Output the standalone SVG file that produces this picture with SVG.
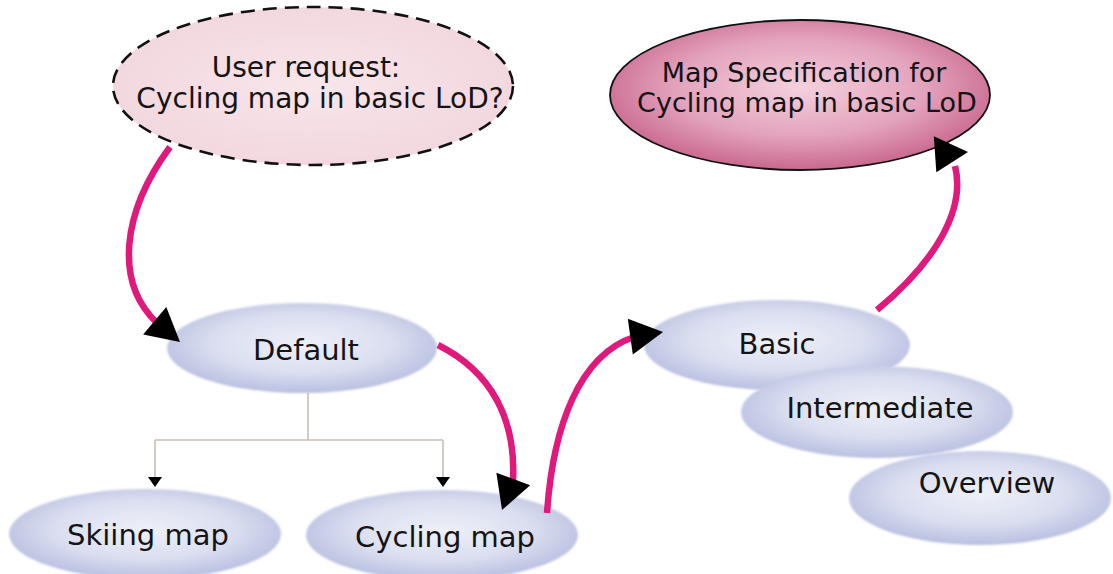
<svg xmlns="http://www.w3.org/2000/svg" width="1113" height="574" viewBox="0 0 1113 574">
<style>
.lbl{font-family:"DejaVu Sans","Verdana",sans-serif;fill:#141414;text-anchor:middle}
.flow{fill:none;stroke:#e0197d;stroke-width:6.5;stroke-linecap:butt}
.tree{fill:none;stroke:#c8bfb6;stroke-width:1.6}
.blue{fill:url(#gBlue);filter:url(#soft)}
</style>
<defs>
<radialGradient id="gBlue" cx="50%" cy="45%" r="55%">
<stop offset="0%" stop-color="#eef0f8"/>
<stop offset="60%" stop-color="#dadef0"/>
<stop offset="100%" stop-color="#b9c0e0"/>
</radialGradient>
<radialGradient id="gPink" cx="50%" cy="45%" r="55%">
<stop offset="0%" stop-color="#f4d0dd"/>
<stop offset="60%" stop-color="#e3a2bc"/>
<stop offset="100%" stop-color="#c9688f"/>
</radialGradient>
<radialGradient id="gLight" cx="50%" cy="50%" r="55%">
<stop offset="0%" stop-color="#f8e6ea"/>
<stop offset="100%" stop-color="#f2d6de"/>
</radialGradient>
<filter id="soft" x="-5%" y="-10%" width="110%" height="120%">
<feGaussianBlur stdDeviation="1.3"/>
</filter>
<polygon id="bigHead" points="0,0 -33,-18 -33,18" fill="#000"/>
<polygon id="smallHead" points="0,0 -10,-7 -10,7" fill="#000"/>
</defs>
<rect width="1113" height="574" fill="#fff"/>

<g id="node-user-request">
<ellipse cx="313" cy="86" rx="200" ry="79" fill="url(#gLight)" stroke="#111" stroke-width="2.6" stroke-dasharray="14 8"/>
<text class="lbl" x="306" y="77" font-size="28">User request:</text>
<text class="lbl" x="320" y="108" font-size="28">Cycling map in basic LoD?</text>
</g>

<g id="node-map-spec">
<ellipse cx="800" cy="95" rx="190" ry="75" fill="url(#gPink)" stroke="#111" stroke-width="1.8"/>
<text class="lbl" x="804" y="82" font-size="27">Map Specification for</text>
<text class="lbl" x="807" y="112" font-size="27">Cycling map in basic LoD</text>
</g>

<g id="node-default">
<ellipse class="blue" cx="302" cy="348" rx="135" ry="45"/>
<text class="lbl" x="306" y="360" font-size="29">Default</text>
</g>

<g id="node-skiing">
<ellipse class="blue" cx="145" cy="534" rx="136" ry="45"/>
<text class="lbl" x="148" y="545" font-size="29">Skiing map</text>
</g>

<g id="node-cycling">
<ellipse class="blue" cx="442" cy="535" rx="136" ry="45"/>
<text class="lbl" x="445" y="547" font-size="29">Cycling map</text>
</g>

<g id="node-basic">
<ellipse class="blue" cx="777" cy="345" rx="133" ry="45"/>
<text class="lbl" x="777" y="354" font-size="29">Basic</text>
</g>

<g id="node-intermediate">
<ellipse class="blue" cx="877" cy="412" rx="136" ry="46"/>
<text class="lbl" x="880" y="418" font-size="29">Intermediate</text>
</g>

<g id="node-overview">
<ellipse class="blue" cx="980" cy="498" rx="131" ry="47"/>
<text class="lbl" x="987" y="493" font-size="29">Overview</text>
</g>

<g id="connectors">
<path class="tree" d="M308,393 V440 M155,440 H443 M155,440 V478 M443,440 V478"/>
<use href="#smallHead" transform="translate(155,487) rotate(90)"/>
<use href="#smallHead" transform="translate(443,487) rotate(90)"/>

<path class="flow" d="M170,147 C122,212 114,282 157,323"/>
<use href="#bigHead" transform="translate(180,342) rotate(40)"/>

<path class="flow" d="M438,345 C492,372 516,420 513,480"/>
<use href="#bigHead" transform="translate(502,510) rotate(110)"/>

<path class="flow" d="M547,513 C553,425 580,355 634,337"/>
<use href="#bigHead" transform="translate(663,332) rotate(-8)"/>

<path class="flow" d="M877,310 C935,262 966,210 955,166"/>
<use href="#bigHead" transform="translate(968,152) rotate(-4)"/>
</g>
</svg>
